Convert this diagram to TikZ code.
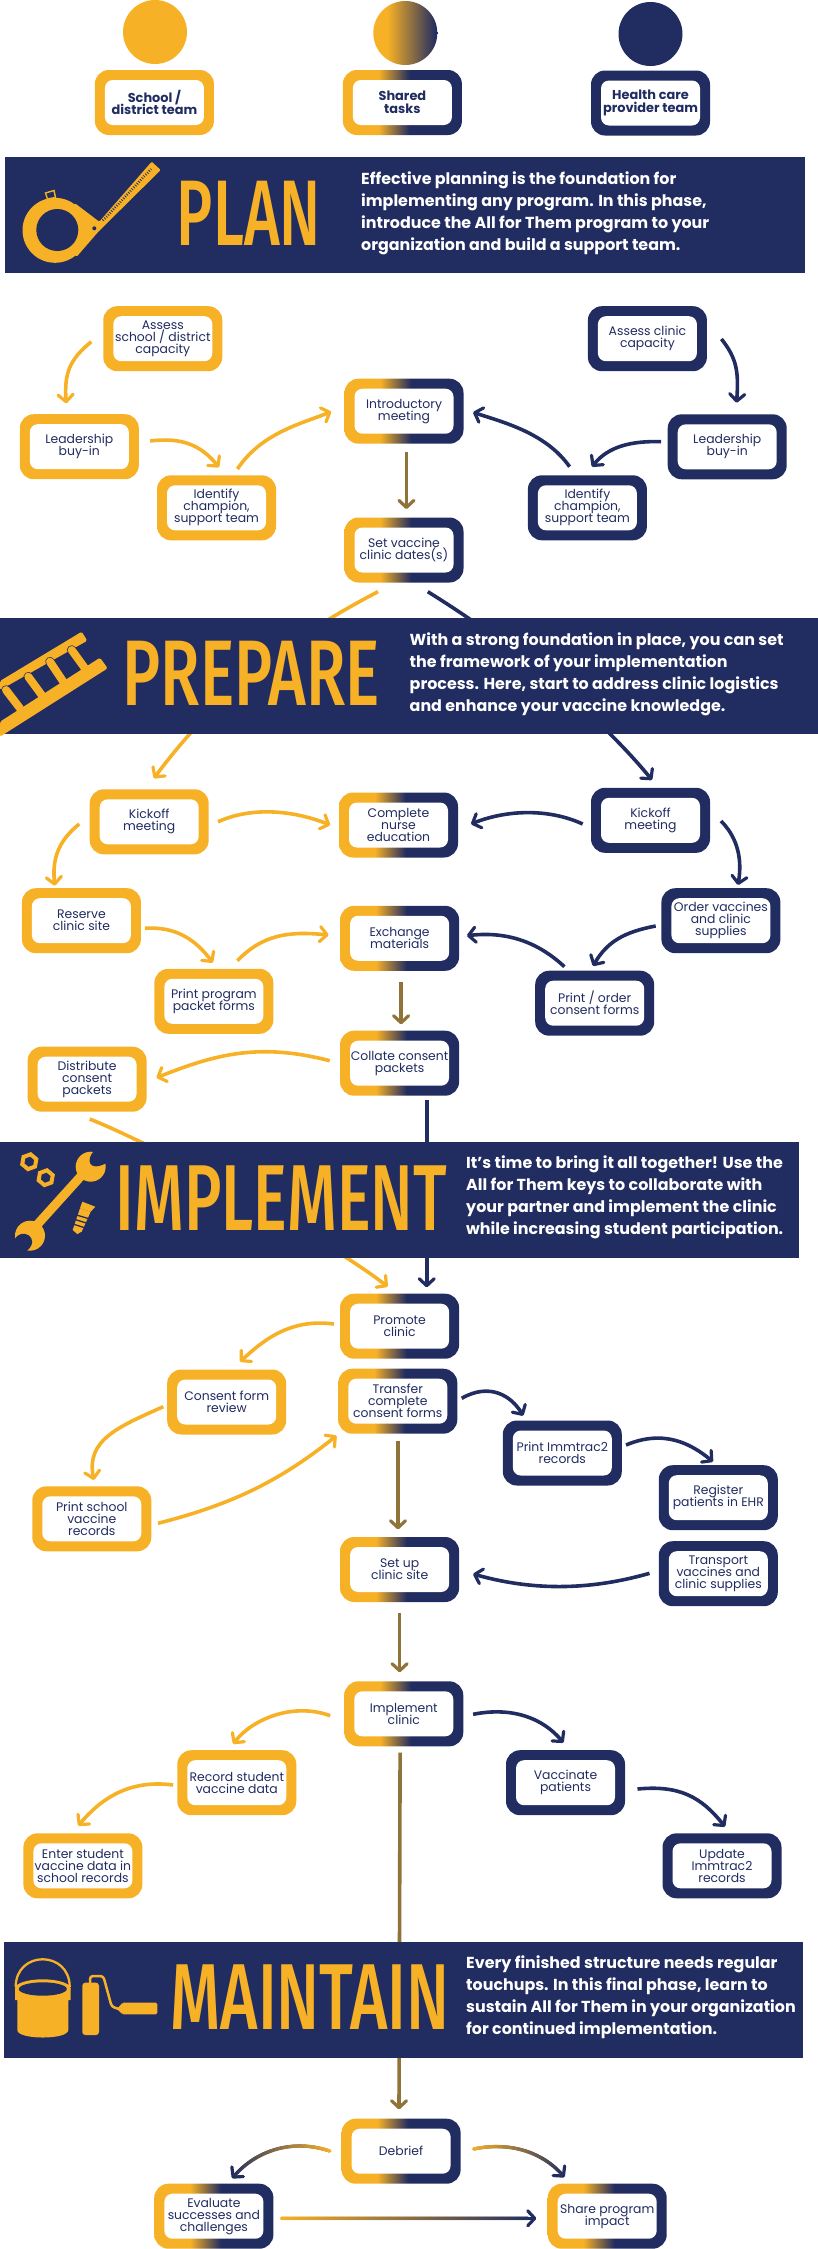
\documentclass[tikz,border=0pt]{standalone}
\usepackage{fontspec}
\setmainfont{Poppins}
\newfontfamily\titlefont{Fira Sans Medium}
\usetikzlibrary{arrows.meta,shapes.geometric,decorations.markings}
\definecolor{gold}{RGB}{247,177,38}
\definecolor{navy}{RGB}{33,44,97}
\definecolor{brownmix}{RGB}{143,115,57}
\pgfdeclarehorizontalshading{sharedgrad}{100bp}{color(0bp)=(gold); color(40bp)=(gold); color(53bp)=(navy); color(100bp)=(navy)}
\pgfdeclarehorizontalshading{circgrad}{100bp}{color(0bp)=(gold); color(36bp)=(gold); color(74bp)=(navy); color(100bp)=(navy)}
\tikzset{
  boxbase/.style={rounded corners=14pt, minimum width=119pt, minimum height=65pt, inner sep=0pt, align=center, text=navy,
    font=\fontsize{12.4}{12}\selectfont\lineskiplimit-20pt\relax,
    path picture={\fill[white,rounded corners=8pt] ([shift={(10,10)}]path picture bounding box.north west) rectangle ([shift={(-10,-10)}]path picture bounding box.south east);}},
  gbox/.style={boxbase, fill=gold},
  nbox/.style={boxbase, fill=navy},
  sbox/.style={boxbase, shade, shading=sharedgrad},
  keytext/.style={font=\bfseries\fontsize{12.9}{12.7}\selectfont\lineskiplimit-20pt\relax},
  disc/.style={circle, minimum size=64pt, inner sep=0pt},
  arrbase/.style={line width=3.6pt, -{Straight Barb[length=7pt,width=15pt,line width=3.2pt,round]}},
  garr/.style={arrbase, draw=gold},
  narr/.style={arrbase, draw=navy},
  barr/.style={arrbase, draw=brownmix},
  mixarr/.style={arrbase, line width=3pt, draw=navy, postaction={decorate, decoration={markings,
     mark=between positions 0 and 0.97 step 1pt with {%
       \pgfmathsetmacro\gmix{min(100,100*(\pgfkeysvalueof{/pgf/decoration/mark info/distance from start}/\pgfdecoratedpathlength))}%
       \fill[navy!\gmix!gold] (0pt,0pt) circle (1.9pt);}}}},
  bannerbox/.style={fill=navy},
  ptitle/.style={text=gold, inner sep=0pt, font=\titlefont},
  ptext/.style={anchor=west, align=left, text=white, inner sep=0pt, font=\bfseries\fontsize{15.9}{22}\selectfont},
  nutshape/.style={regular polygon, regular polygon sides=6, draw=gold, line width=4pt, minimum size=15pt, inner sep=0pt, rotate=20},
}
\begin{document}
\begin{tikzpicture}[x=1pt,y=-1pt]
\useasboundingbox (0,0) rectangle (818,2249);
% key
\node[disc, fill=gold] (kc1) at (155,32) {};
\node[disc, shade, shading=circgrad] (kc2) at (405.3,33) {};
\node[disc, fill=navy] (kc3) at (650.5,34) {};
\node[gbox, keytext] (k1) at (154.4,102.5) {School /\\district team};
\node[sbox, keytext] (k2) at (402.4,102.5) {Shared\\tasks};
\node[nbox, keytext] (k3) at (650.5,103) {Health care\\provider team};
% plan nodes
\node[gbox] (assS) at (162.8,338.7) {Assess\\school / district\\capacity};
\node[nbox] (assC) at (647.4,338.7) {Assess clinic\\capacity};
\node[gbox] (leadS) at (79.3,446.7) {Leadership\\buy-in};
\node[nbox] (leadC) at (727.2,446.8) {Leadership\\buy-in};
\node[gbox] (idS) at (216.5,507.8) {Identify\\champion,\\support team};
\node[nbox] (idC) at (587.4,507.8) {Identify\\champion,\\support team};
\node[sbox] (intro) at (404,411.2) {Introductory\\meeting};
\node[sbox] (setV) at (404,550) {Set vaccine\\clinic dates(s)};
% prepare nodes
\node[gbox] (kickS) at (149.2,821.8) {Kickoff\\meeting};
\node[nbox] (kickC) at (650.5,820.3) {Kickoff\\meeting};
\node[sbox] (nurse) at (398.5,825) {Complete\\nurse\\education};
\node[gbox] (reserve) at (81.4,920.7) {Reserve\\clinic site};
\node[sbox] (exch) at (399.6,938.3) {Exchange\\materials};
\node[nbox] (order) at (720.9,920.7) {Order vaccines\\and clinic\\supplies};
\node[gbox] (printP) at (213.9,1001.3) {Print program\\packet forms};
\node[nbox] (printO) at (594.7,1003.2) {Print / order\\consent forms};
\node[sbox] (collate) at (399.6,1063.2) {Collate consent\\packets};
\node[gbox] (distr) at (87.1,1079.2) {Distribute\\consent\\packets};
% implement nodes
\node[sbox] (promote) at (399.6,1326.2) {Promote\\clinic};
\node[sbox] (transfer) at (397.8,1401.2) {Transfer\\complete\\consent forms};
\node[gbox] (review) at (226.7,1402) {Consent form\\review};
\node[gbox] (printS) at (91.8,1518.8) {Print school\\vaccine\\records};
\node[nbox] (printI) at (562.3,1453) {Print Immtrac2\\records};
\node[nbox] (register) at (718.3,1497.7) {Register\\patients in EHR};
\node[nbox] (transport) at (718.3,1573.7) {Transport\\vaccines and\\clinic supplies};
\node[sbox] (setup) at (399.6,1569.5) {Set up\\clinic site};
\node[sbox] (impl) at (403.8,1713.8) {Implement\\clinic};
\node[gbox] (recordS) at (236.8,1782.7) {Record student\\vaccine data};
\node[nbox] (vacc) at (565.5,1782.7) {Vaccinate\\patients};
\node[gbox] (enterS) at (82.9,1865.8) {Enter student\\vaccine data in\\school records};
\node[nbox] (update) at (722,1865.8) {Update\\Immtrac2\\records};
% maintain nodes
\node[sbox] (debrief) at (401.1,2151.2) {Debrief};
\node[sbox] (evalb) at (213.9,2216.2) {Evaluate\\successes and\\challenges};
\node[sbox] (share) at (607.2,2216.2) {Share program\\impact};
% connectors
\draw[garr] ([shift={(-71.5,3)}]assS.center) .. controls +(-22,18) and +(-2,-30) .. ([shift={(-13.1,-43.4)}]leadS.center);
\draw[garr] ([shift={(70.9,-5.7)}]leadS.center) .. controls +(32,-4) and +(-18,-22) .. ([shift={(2.5,-40.5)}]idS.center);
\draw[garr] ([shift={(20.9,-38.8)}]idS.center) .. controls +(24,-36) and +(-30,12) .. ([shift={(-72.8,0.5)}]intro.center);
\draw[narr] ([shift={(-17.8,-41.1)}]idC.center) .. controls +(-24,-34) and +(30,10) .. ([shift={(69.1,1.1)}]intro.center);
\draw[narr] ([shift={(-66.2,-5.1)}]leadC.center) .. controls +(-30,-1) and +(16,-20) .. ([shift={(4.6,-41.1)}]idC.center);
\draw[narr] ([shift={(74,0.3)}]assC.center) .. controls +(16,20) and +(2,-30) .. ([shift={(9.4,-44.1)}]leadC.center);
\draw[barr] ([shift={(2.4,40.5)}]intro.center) -- ([shift={(2.4,-41)}]setV.center);
\draw[garr] ([shift={(-26,41.7)}]setV.center) .. controls +(-110,57) and +(49,-66) .. ([shift={(4.7,-43.5)}]kickS.center);
\draw[narr] ([shift={(23.8,41.7)}]setV.center) .. controls +(100,62) and +(-45,-55) .. ([shift={(1.5,-40.3)}]kickC.center);
\draw[garr] ([shift={(68.8,0)}]kickS.center) .. controls +(35,-16) and +(-35,-14) .. ([shift={(-68.3,0)}]nurse.center);
\draw[narr] ([shift={(-67.8,3.7)}]kickC.center) .. controls +(-35,-16) and +(35,-14) .. ([shift={(72.5,-1)}]nurse.center);
\draw[garr] ([shift={(-69.9,2.2)}]kickS.center) .. controls +(-20,16) and +(-3,-28) .. ([shift={(-26.6,-35)}]reserve.center);
\draw[narr] ([shift={(70.5,0.7)}]kickC.center) .. controls +(14,14) and +(5,-30) .. ([shift={(17.1,-35.7)}]order.center);
\draw[garr] ([shift={(63.6,7.6)}]reserve.center) .. controls +(30,-2) and +(-18,-24) .. ([shift={(-1.1,-38.6)}]printP.center);
\draw[garr] ([shift={(23.5,-40.6)}]printP.center) .. controls +(25,-26) and +(-40,-4) .. ([shift={(-71,-3.3)}]exch.center);
\draw[narr] ([shift={(-65.2,5.3)}]order.center) .. controls +(-32,6) and +(14,-24) .. ([shift={(-1.7,-37.2)}]printO.center);
\draw[narr] ([shift={(-30.3,-36.5)}]printO.center) .. controls +(-30,-28) and +(35,-4) .. ([shift={(67.3,-2.6)}]exch.center);
\draw[barr] ([shift={(1.5,43.4)}]exch.center) -- ([shift={(1.5,-38.9)}]collate.center);
\draw[garr] ([shift={(-69.9,-2.5)}]collate.center) .. controls +(-70,-18) and +(60,-24) .. ([shift={(69.4,-1.5)}]distr.center);
\draw[garr] ([shift={(2.6,39.8)}]distr.center) .. controls +(80,32) and +(-50,-40) .. ([shift={(-12,-39.5)}]promote.center);
\draw[narr] ([shift={(27.1,36.8)}]collate.center) -- ([shift={(27.1,-38.9)}]promote.center);
\draw[garr] ([shift={(-65.7,-2.2)}]promote.center) .. controls +(-45,-6) and +(22,-20) .. ([shift={(13.3,-40.3)}]review.center);
\draw[garr] ([shift={(-63.4,4.7)}]review.center) .. controls +(-45,20) and +(-8,-40) .. ([shift={(2.1,-38.8)}]printS.center);
\draw[garr] ([shift={(66.2,4.5)}]printS.center) .. controls +(70,-18) and +(-60,48) .. ([shift={(-61.3,34.5)}]transfer.center);
\draw[narr] ([shift={(63.9,-2.9)}]transfer.center) .. controls +(28,-16) and +(-12,-20) .. ([shift={(-39.1,-37.3)}]printI.center);
\draw[narr] ([shift={(63.7,-8)}]printI.center) .. controls +(38,-16) and +(-22,-18) .. ([shift={(-5.3,-36)}]register.center);
\draw[barr] ([shift={(0.2,39.8)}]transfer.center) -- ([shift={(-1.6,-40.2)}]setup.center);
\draw[narr] ([shift={(-68.8,-0.4)}]transport.center) .. controls +(-70,20) and +(50,14) .. ([shift={(73.5,4.5)}]setup.center);
\draw[barr] ([shift={(0,43.8)}]setup.center) -- ([shift={(-4.2,-41.5)}]impl.center);
\draw[garr] ([shift={(-73.6,1.9)}]impl.center) .. controls +(-38,-14) and +(18,-24) .. ([shift={(-3.6,-38.7)}]recordS.center);
\draw[narr] ([shift={(69.3,0.5)}]impl.center) .. controls +(40,-8) and +(-20,-24) .. ([shift={(-2.1,-40)}]vacc.center);
\draw[garr] ([shift={(-63.6,2.3)}]recordS.center) .. controls +(-45,-6) and +(22,-26) .. ([shift={(-4.7,-40.1)}]enterS.center);
\draw[narr] ([shift={(72,6.3)}]vacc.center) .. controls +(42,-4) and +(-24,-30) .. ([shift={(3,-39.1)}]update.center);
\draw[barr] ([shift={(-3.7,38.9)}]impl.center) -- ([shift={(-2.1,-41.9)}]debrief.center);
\draw[mixarr] ([shift={(-71.4,-0.2)}]debrief.center) .. controls +(-42,-14) and +(20,-24) .. ([shift={(18.2,-37.9)}]evalb.center);
\draw[mixarr] ([shift={(72.6,-2.2)}]debrief.center) .. controls +(38,-8) and +(-20,-24) .. ([shift={(-42.8,-38.9)}]share.center);
\draw[mixarr] ([shift={(67.8,2.1)}]evalb.center) -- ([shift={(-70.9,2.1)}]share.center);
% banners
\fill[bannerbox] (5,156.7) rectangle (804.5,272.7);
\fill[bannerbox] (0,617.7) rectangle (818,734);
\fill[bannerbox] (0,1142) rectangle (799,1257.7);
\fill[bannerbox] (3.6,1941.7) rectangle (803,2057.7);
\node[ptitle] (tplan) at (249,213.8) {\resizebox{144pt}{64.3pt}{PLAN}};
\node[ptitle] (tprep) at (251.3,673.8) {\resizebox{257.4pt}{64.3pt}{PREPARE}};
\node[ptitle] (timpl) at (281.5,1198.3) {\resizebox{331pt}{64.7pt}{IMPLEMENT}};
\node[ptitle] (tmain) at (310.2,1996.7) {\resizebox{279pt}{64.7pt}{MAINTAIN}};
\node[ptext] (dplan) at (361,213.3) {Effective planning is the foundation for\\implementing any program. In this phase,\\introduce the All for Them program to your\\organization and build a support team.};
\node[ptext] (dprep) at (409.5,674.3) {With a strong foundation in place, you can set\\the framework of your implementation\\process. Here, start to address clinic logistics\\and enhance your vaccine knowledge.};
\node[ptext] (dimpl) at (466,1197.3) {It’s time to bring it all together! Use the\\All for Them keys to collaborate with\\your partner and implement the clinic\\while increasing student participation.};
\node[ptext] (dmain) at (466,1997.3) {Every finished structure needs regular\\touchups. In this final phase, learn to\\sustain All for Them in your organization\\for continued implementation.};
% tape icon
\fill[gold] (55,230.3) circle (32.5pt);
\fill[gold, rounded corners=1pt] (75,203.3) -- (99.3,221.7) -- (151.7,161.7) -- (160.7,170) -- (98.3,231.7) -- (76.7,256.7) -- (55,230) -- cycle;
\draw[navy, line width=2.5pt, dash pattern=on 0.8pt off 1.7pt] (103,220.5) -- (151,169);
\fill[navy] (94.3,228.3) circle (2pt);
\fill[navy] (57.3,230) circle (21pt);
\draw[gold, line width=1.4pt] (45.5,193) -- (54,190.5) -- (55.5,197.5) -- (47.5,199) -- cycle;
% ladder icon
\fill[gold, rounded corners=1.5pt] (81.7,631.7) -- (87.3,640.7) -- (0,690) -- (0,681) -- cycle;
\foreach \ax/\ay/\bx/\by in {71.7/650/85/668.3, 50/661.7/63.3/681.7, 28.3/676.7/41.7/695, 6/690/20/708.3}{
  \draw[navy, line width=9.5pt, line cap=round] (\ax,\ay) -- (\bx,\by);
  \draw[gold, line width=8pt, line cap=round] (\ax,\ay) -- (\bx,\by);
}
\fill[gold, rounded corners=1.5pt] (100,657.7) -- (107.7,668.3) -- (0,736.7) -- (0,721.7) -- cycle;
% wrench icon
\node[nutshape] (nut1) at (29.3,1161.7) {};
\node[nutshape] (nut2) at (45.7,1177.7) {};
\draw[gold, line width=9pt] (36,1226) -- (82,1175);
\fill[gold] (90.7,1166.7) circle (15pt);
\fill[gold] (30,1235.7) circle (15pt);
\fill[navy] (93.3,1151.7) .. controls (86,1160) and (89,1172) .. (106,1163.3) -- (112,1150) -- (100,1144) -- cycle;
\fill[navy] (14.3,1240) .. controls (21,1226) and (42,1238) .. (26.7,1251) -- (21,1257) -- (9,1257) -- (6,1248) -- cycle;
\fill[gold] (82.3,1201.7) -- (95.3,1206.7) -- (90.7,1211.7) -- (80,1208.3) -- cycle;
\fill[gold] (80,1208.3) -- (90.7,1211.7) -- (81.7,1231.7) -- (77.3,1234) -- (72.7,1230) -- cycle;
\draw[navy, line width=1.3pt] (76.5,1215) -- (90,1219);
\draw[navy, line width=1.3pt] (75,1219.5) -- (88,1223.5);
\draw[navy, line width=1.3pt] (73,1224) -- (85.5,1228);
% paint icon
\fill[gold] (15,1988) -- (15,2000) -- (17.3,2000) -- (17.3,2030) .. controls (17.3,2040) and (68.3,2040) .. (68.3,2030) -- (68.3,2000) -- (70.7,2000) -- (70.7,1988) -- cycle;
\draw[gold, line width=2.3pt] (15.7,1987) .. controls (15.7,1950) and (69.7,1950) .. (69.7,1987);
\fill[gold] (42.8,1988.3) ellipse [x radius=27.8, y radius=9];
\fill[navy] (42.8,1989) ellipse [x radius=24, y radius=6.7];
\fill[gold, rounded corners=3pt] (82.3,1982.7) rectangle (99,2035);
\draw[gold, line width=2.5pt, rounded corners=3pt] (90,1983) -- (90,1976) -- (103.3,1976) -- (111.7,2006.7) -- (120,2009.3);
\fill[gold] (117,2009) -- (122.3,2003) -- (122.3,2014) -- cycle;
\fill[gold, rounded corners=1.5pt] (122,2002.7) rectangle (157.3,2014.3);
\end{tikzpicture}
\end{document}
